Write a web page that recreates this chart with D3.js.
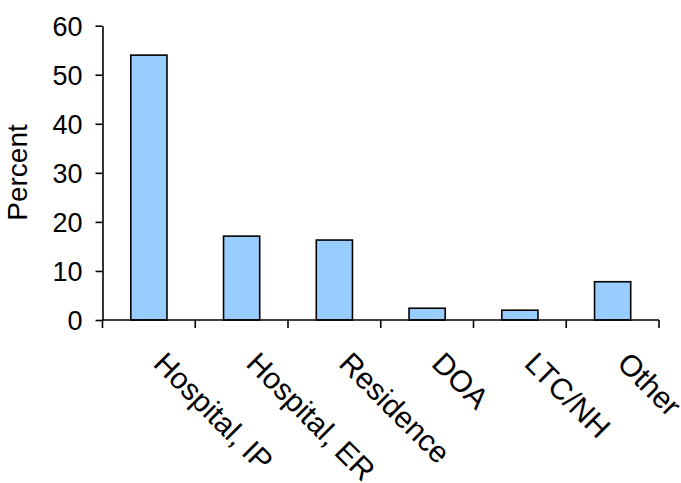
<!DOCTYPE html>
<html><head><meta charset="utf-8">
<script src="https://cdn.jsdelivr.net/npm/d3@7"></script>
<style>body{margin:0;background:#fff}svg{display:block}text{font-family:"Liberation Sans",Arial,sans-serif;fill:#000}</style>
</head><body><svg id="c" width="681" height="483"></svg>
<script>
const categories = ["Hospital, IP","Hospital, ER","Residence","DOA","LTC/NH","Other"];
const values = [54.0, 17.1, 16.3, 2.4, 2.0, 7.8];
const yTicks = [0,10,20,30,40,50,60];
const yLabel = "Percent";

const svg = d3.select("#c");
const x = d3.scaleBand().domain(categories).range([102.5,659]).paddingInner(0.61).paddingOuter(0.305);
const y = d3.scaleLinear().domain([0,60]).range([320,25.7]);

// bars
svg.append("g").selectAll("rect").data(categories).join("rect")
  .attr("x", d=>x(d)).attr("width", x.bandwidth())
  .attr("y", (d,i)=>y(values[i])).attr("height",(d,i)=>y(0)-y(values[i]))
  .attr("fill","#99ccff").attr("stroke","#000").attr("stroke-width",1.6);

// y axis
const ya = svg.append("g").attr("transform","translate(102.5,0)")
  .call(d3.axisLeft(y).tickValues(yTicks).tickSize(7).tickPadding(13).tickSizeOuter(0));
ya.select(".domain").attr("stroke-width",1.6);
ya.selectAll(".tick line").attr("stroke-width",1.6);
ya.selectAll("text").style("font-size","27px").attr("dy","0.36em");

// x axis
const step = x.step();
const x0 = x.range()[0];
const xa = svg.append("g").attr("transform","translate(0,320)");
xa.append("line").attr("x1",x0).attr("x2",x.range()[1]).attr("stroke","#000").attr("stroke-width",1.6);
xa.selectAll("line.t").data(d3.range(categories.length+1)).join("line").attr("class","t")
  .attr("x1",i=>x0+i*step).attr("x2",i=>x0+i*step).attr("y1",0).attr("y2",8)
  .attr("stroke","#000").attr("stroke-width",1.6);
svg.append("g").selectAll("text").data(categories).join("text")
  .attr("transform",d=>`translate(${x(d)+x.bandwidth()/2+3},365) rotate(45)`)
  .style("font-size","30px").text(d=>d);

svg.append("text").attr("transform","translate(27,172.5) rotate(-90)")
  .attr("text-anchor","middle").style("font-size","28px").text(yLabel);
</script></body></html>
